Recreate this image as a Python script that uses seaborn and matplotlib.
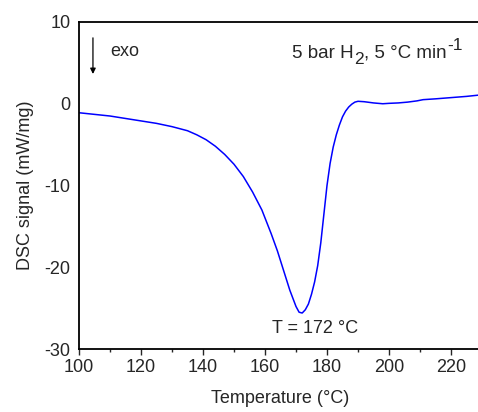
import numpy as np
import pandas as pd
import matplotlib
matplotlib.use("Agg")
import matplotlib.pyplot as plt
import seaborn as sns

# DSC trace
temperature = [100, 105, 110, 115, 120, 125, 130, 135, 138, 141, 144, 147, 150,
               153, 156, 159, 162, 164, 166, 168, 170, 171, 172, 173, 174, 175,
               176, 177, 178, 179, 180, 181, 182, 183, 184, 185, 186, 187, 188,
               189, 190, 192, 195, 198, 200, 203, 206, 209, 211, 215, 220, 225, 230]
signal = [-1.1, -1.3, -1.5, -1.8, -2.1, -2.4, -2.8, -3.3, -3.8, -4.4, -5.2, -6.2, -7.4,
          -8.9, -10.8, -13.0, -15.9, -18.0, -20.4, -22.8, -24.8, -25.5, -25.6, -25.2,
          -24.5, -23.3, -21.8, -19.8, -17.0, -13.5, -10.0, -7.3, -5.3, -3.8, -2.6,
          -1.6, -0.9, -0.4, -0.05, 0.2, 0.3, 0.25, 0.1, 0.0, 0.05, 0.1, 0.2, 0.35, 0.5,
          0.6, 0.75, 0.9, 1.1]

x_ticks = [100, 120, 140, 160, 180, 200, 220]
y_ticks = [-30, -20, -10, 0, 10]

df = pd.DataFrame({"T": temperature, "DSC": signal})

sns.set_style("ticks")
plt.rcParams["font.family"] = ["Liberation Sans", "DejaVu Sans"]
plt.rcParams["axes.unicode_minus"] = False

fig = plt.figure(figsize=(4.78, 4.12), dpi=100)
ax = fig.add_axes([79 / 478, 63 / 412, 403 / 478, 327 / 412])

sns.lineplot(data=df, x="T", y="DSC", ax=ax, color="#0000ff", linewidth=1.1)

ax.set_xlim(100, 230)
ax.set_ylim(-30, 10)
ax.set_xticks(x_ticks)
ax.set_xticks(np.arange(110, 230, 20), minor=True)
ax.set_yticks(y_ticks)
ax.tick_params(axis="both", labelsize=13)
ax.tick_params(axis="x", which="major", direction="out", length=4, width=1.0)
ax.tick_params(axis="x", which="minor", direction="out", length=2.5, width=1.0)
ax.tick_params(axis="y", length=0, pad=6)
for s in ax.spines.values():
    s.set_linewidth(1.3)
    s.set_color("black")

ax.set_xlabel("Temperature (°C)", fontsize=13, labelpad=10)
ax.set_ylabel("DSC signal (mW/mg)", fontsize=13, labelpad=8)

ax.annotate("", xy=(104.5, 3.3), xytext=(104.5, 8.4),
            arrowprops=dict(arrowstyle="-|>", color="black", lw=0.9,
                            mutation_scale=8))
ax.text(110, 6.4, "exo", fontsize=13, va="center", ha="left")

# condition label built piece by piece (hyphen superscript, large subscript)
base_y = 5.6
t1 = ax.text(168.7, base_y, "5 bar H", fontsize=13.5, va="baseline", ha="left")
t2 = ax.annotate("2", xy=(1, base_y), xycoords=(t1, "data"), xytext=(0.5, -4),
                 textcoords="offset points", fontsize=12.5, va="baseline", ha="left")
t3 = ax.annotate(", 5 °C min", xy=(1, base_y), xycoords=(t2, "data"),
                 xytext=(0, 0), textcoords="offset points", fontsize=13.5,
                 va="baseline", ha="left")
ax.annotate("-1", xy=(1, base_y), xycoords=(t3, "data"), xytext=(0.5, 6),
            textcoords="offset points", fontsize=12.5, va="baseline", ha="left")

ax.text(176, -27.5, "T = 172 °C", fontsize=13, va="center", ha="center")

fig.savefig("out.png", dpi=100)
